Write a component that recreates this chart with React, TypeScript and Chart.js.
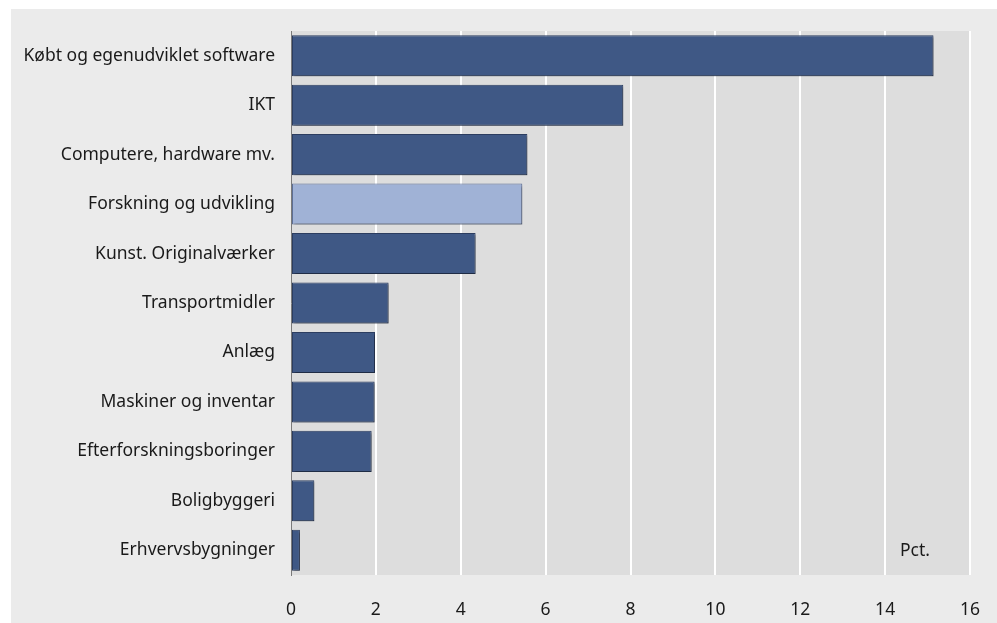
import React, { useEffect, useRef } from "react";
import { Chart, registerables } from "chart.js";

Chart.register(...registerables);

const categories = [
  "Købt og egenudviklet software",
  "IKT",
  "Computere, hardware mv.",
  "Forskning og udvikling",
  "Kunst. Originalværker",
  "Transportmidler",
  "Anlæg",
  "Maskiner og inventar",
  "Efterforskningsboringer",
  "Boligbyggeri",
  "Erhvervsbygninger",
];

const values = [15.14, 7.83, 5.57, 5.45, 4.35, 2.3, 1.98, 1.97, 1.9, 0.55, 0.21];

const highlighted = ["Forskning og udvikling"];

const xTicks = [0, 2, 4, 6, 8, 10, 12, 14, 16];

const unitLabel = "Pct.";

const FONT = "'Noto Sans', sans-serif";
const FONT_SIZE = 17.5;

export default function App() {
  const ref = useRef<HTMLCanvasElement | null>(null);

  useEffect(() => {
    if (!ref.current) return;
    const bgPlugin = {
      id: "plotBg",
      beforeDraw(chart: any) {
        const { ctx, chartArea } = chart;
        ctx.save();
        ctx.fillStyle = "#dddddd";
        ctx.fillRect(chartArea.left, chartArea.top, chartArea.right - chartArea.left, chartArea.bottom - chartArea.top);
        ctx.restore();
      },
      beforeDatasetsDraw(chart: any) {
        const { ctx } = chart;
        ctx.save();
        ctx.shadowColor = "rgba(0,0,0,0.3)";
        ctx.shadowOffsetX = 2;
        ctx.shadowOffsetY = 2;
        ctx.shadowBlur = 2;
      },
      afterDatasetsDraw(chart: any) {
        chart.ctx.restore();
      },
      afterDraw(chart: any) {
        const { ctx, chartArea } = chart;
        ctx.save();
        ctx.fillStyle = "#1a1a1a";
        ctx.font = FONT_SIZE + "px " + FONT;
        ctx.textAlign = "center";
        ctx.textBaseline = "middle";
        ctx.fillText(unitLabel, chartArea.right - 55, chartArea.bottom - 24);
        ctx.restore();
      },
    };

    const chart = new Chart(ref.current, {
      type: "bar",
      data: {
        labels: categories,
        datasets: [
          {
            data: values,
            backgroundColor: categories.map((c) => (highlighted.includes(c) ? "#a0b2d6" : "#3f5885")),
            borderColor: categories.map((c) => (highlighted.includes(c) ? "#5d6f96" : "#2c3d60")),
            borderWidth: 1,
            borderSkipped: false,
            barPercentage: 0.83,
            categoryPercentage: 1,
          },
        ],
      },
      options: {
        indexAxis: "y",
        animation: false,
        responsive: false,
        maintainAspectRatio: false,
        layout: { padding: { top: 22, right: 27, left: 0, bottom: 0 } },
        plugins: { legend: { display: false }, tooltip: { enabled: false } },
        scales: {
          x: {
            min: 0,
            max: 16,
            afterBuildTicks(scale: any) {
              scale.ticks = xTicks.map((v) => ({ value: v }));
            },
            afterFit(scale: any) {
              scale.height = 48;
            },
            grid: {
              color: (ctx: any) => (ctx.tick && ctx.tick.value === 0 ? "rgba(0,0,0,0)" : "#ffffff"),
              lineWidth: 2,
              drawTicks: true,
              tickLength: 22,
              tickColor: "rgba(0,0,0,0)",
            },
            border: { display: false },
            ticks: {
              color: "#1a1a1a",
              font: { family: FONT, size: FONT_SIZE },
              padding: 3,
              maxRotation: 0,
            },
          },
          y: {
            afterFit(scale: any) {
              scale.width = 280;
            },
            grid: {
              display: true,
              color: "rgba(0,0,0,0)",
              drawTicks: true,
              tickLength: 14,
              tickColor: "rgba(0,0,0,0)",
            },
            border: { display: true, color: "#7a7a7a", width: 1 },
            ticks: {
              color: "#1a1a1a",
              font: { family: FONT, size: FONT_SIZE },
              padding: 2,
              autoSkip: false,
            },
          },
        },
      },
      plugins: [bgPlugin],
    });
    return () => chart.destroy();
  }, []);

  return (
    <div style={{ position: "absolute", left: 11, top: 9, width: 986, height: 614, background: "#ebebeb" }}>
      <canvas ref={ref} width={986} height={614} style={{ display: "block" }} />
    </div>
  );
}
